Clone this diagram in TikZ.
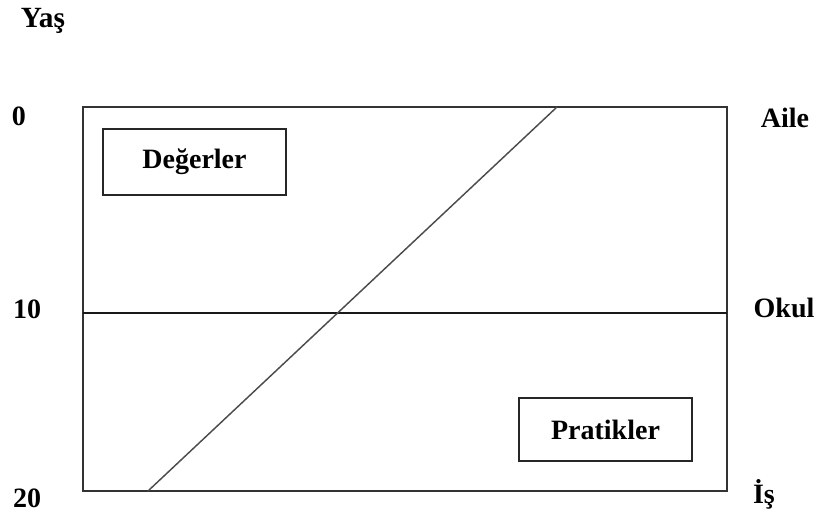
\documentclass[tikz,border=0pt]{standalone}
\usepackage{fontspec}
\setmainfont{Liberation Serif}
\usepackage{tikz}
\usetikzlibrary{positioning}
\tikzset{
	label/.style={
		% The text:
		font=\fontsize{21}{24}\selectfont\bfseries,
		inner sep=0pt,
	}}
\tikzset{
	box/.style={
		% The shape:
		shape=rectangle,
		% The border:
		line width=1.6pt,
		draw=black!85,
		% The text:
		font=\fontsize{21}{24}\selectfont\bfseries,
	}}

\begin{document}
\begin{tikzpicture}[x=0.75pt,y=-0.75pt]
	\useasboundingbox (0,0) rectangle (819,517);
	% frame corners
	\coordinate (tl) at (83,107);
	\coordinate (br) at (727,491);
	\coordinate (ml) at (83,313);
	\coordinate (mr) at (727,313);
	\coordinate (lo) at (148,491);
	\coordinate (hi) at (557,107);
	\draw[line width=1.6pt,draw=black!80] (tl) rectangle (br);
	\draw[line width=1.6pt,draw=black!90] (ml) -- (mr);
	\draw[line width=1.1pt,draw=black!70] (lo) -- (hi);
	% boxes
	\draw[box] (103,129) rectangle (286,195) node[midway] (deg) {Değerler};
	\draw[box] (519,398) rectangle (692,461) node[midway] (pra) {Pratikler};
	% axis labels
	\node[label,font=\fontsize{22}{24}\selectfont\bfseries] (yas) at (43,21) {Yaş};
	\node[label] (y0) at (19,116) {0};
	\node[label] (y10) at (27,309) {10};
	\node[label] (y20) at (27,498) {20};
	\node[label] (aile) at (785,118) {Aile};
	\node[label] (okul) at (784,308) {Okul};
	\node[label] (is) at (764,494) {İş};
\end{tikzpicture}
\end{document}
